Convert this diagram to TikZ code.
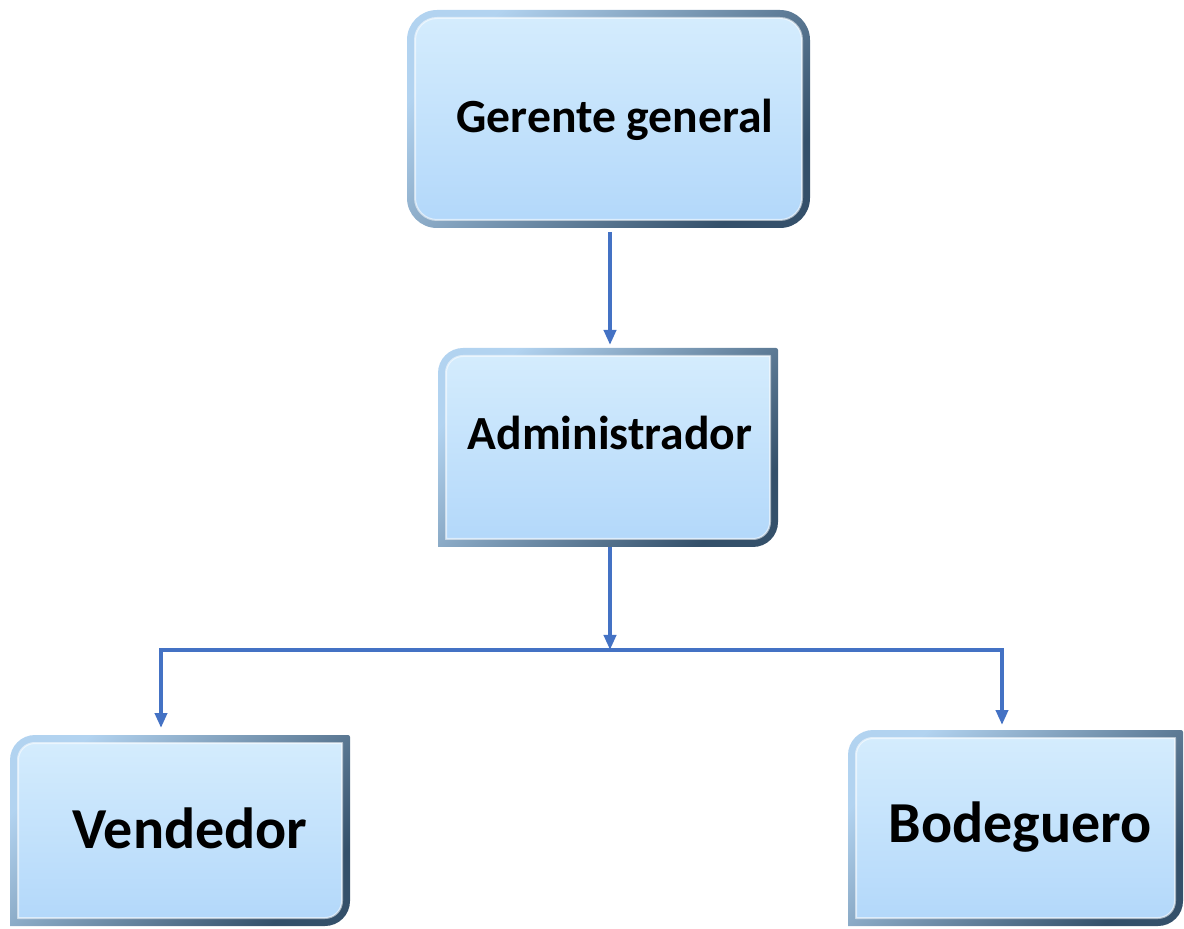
\documentclass[tikz,border=0pt]{standalone}
\usepackage{fontspec}
\setmainfont{Carlito}
\usetikzlibrary{arrows.meta,fit}
\definecolor{conncol}{HTML}{4472C4}
\definecolor{bevlight}{HTML}{B2D3F0}
\definecolor{bevdark}{HTML}{34506A}
\definecolor{filltop}{HTML}{D4ECFD}
\definecolor{fillbot}{HTML}{B3D8FA}
% rounded path: x1,y1(bottom),x2,y2(top), radii TL,TR,BR,BL
\newcommand\rrpath[8]{({#1},{(#2)+(#8)}) -- ({#1},{(#4)-(#5)}) arc[start angle=180,end angle=90,radius={#5}] -- ({(#3)-(#6)},{#4}) arc[start angle=90,end angle=0,radius={#6}] -- ({#3},{(#2)+(#7)}) arc[start angle=0,end angle=-90,radius={#7}] -- ({(#1)+(#8)},{#2}) arc[start angle=270,end angle=180,radius={#8}] -- cycle}
\newcommand\bevbox[8]{%
  \pgfmathsetmacro\ia{max(#5-8,0.01)}%
  \pgfmathsetmacro\ib{max(#6-8,0.01)}%
  \pgfmathsetmacro\ic{max(#7-8,0.01)}%
  \pgfmathsetmacro\id{max(#8-8,0.01)}%
  \pgfmathsetmacro\xa{#1+8}\pgfmathsetmacro\ya{#2+8}%
  \pgfmathsetmacro\xb{#3-8}\pgfmathsetmacro\yb{#4-8}%
  \shade[top color=bevlight,bottom color=bevdark,shading angle=45] \rrpath{#1}{#2}{#3}{#4}{#5}{#6}{#7}{#8};
  \shade[top color=filltop,bottom color=fillbot] \rrpath{\xa}{\ya}{\xb}{\yb}{\ia}{\ib}{\ic}{\id};
  \draw[white,opacity=0.55,line width=1pt] \rrpath{\xa}{\ya}{\xb}{\yb}{\ia}{\ib}{\ic}{\id};
}
\tikzset{
  boxn/.style={inner sep=0pt,outer sep=0pt},
  lbl/.style={anchor=base,inner sep=0pt,font=\bfseries\fontsize{23.8}{28}\selectfont},
  lblbig/.style={anchor=base,inner sep=0pt,font=\bfseries\fontsize{29}{34}\selectfont},
  conn/.style={draw=conncol,line width=2pt,-{Triangle[width=6pt,length=7.5pt]}},
  plain/.style={draw=conncol,line width=2pt},
}
\begin{document}
\begin{tikzpicture}[x=0.5pt,y=0.5pt]
\useasboundingbox (0,0) rectangle (1184,928);
% boxes
\bevbox{407}{700}{810}{918}{30}{30}{30}{30}
\bevbox{438}{381}{778}{580}{25}{2}{25}{0.01}
\bevbox{10}{2}{350}{193}{25}{2}{25}{0.01}
\bevbox{848}{2}{1183}{198}{25}{2}{25}{0.01}
\node[boxn,fit={(407,700)(810,918)}] (g) {};
\node[boxn,fit={(438,381)(778,580)}] (a) {};
\node[boxn,fit={(10,2)(350,193)}] (v) {};
\node[boxn,fit={(848,2)(1183,198)}] (b) {};
% labels
\node[lbl] (gt) at (615,795) {Gerente general};
\node[lbl] (at) at (610,478) {Administrador};
\node[lblbig] (vt) at (190,80) {Vendedor};
\node[lblbig] (bt) at (1020,86) {Bodeguero};
% connectors
\coordinate (j) at (610,278);
\coordinate (vl) at (161,278);
\coordinate (br) at (1002,278);
\draw[conn,shorten <=2pt,shorten >=1.5pt] (g.south -| j) -- (a.north -| j);
\draw[conn] (a.south -| j) -- (j);
\draw[plain] ([xshift=-1pt]vl) -- ([xshift=1pt]br);
\draw[conn,shorten >=3.5pt] (vl) -- (vl |- v.north);
\draw[conn,shorten >=2.5pt] (br) -- (br |- b.north);
\end{tikzpicture}
\end{document}
